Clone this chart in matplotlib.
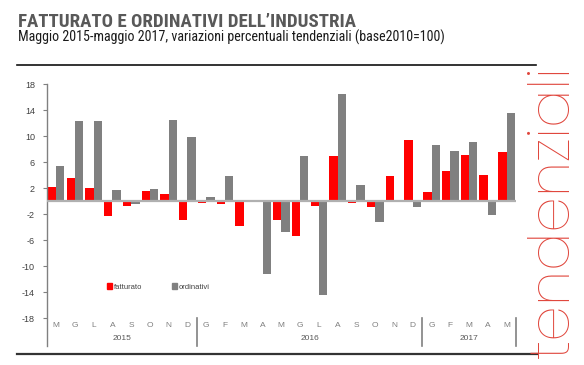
import matplotlib
matplotlib.use("Agg")
import matplotlib.pyplot as plt
from matplotlib.patches import Patch
from matplotlib.lines import Line2D
import numpy as np

plt.rcParams['font.family'] = ['Liberation Sans', 'DejaVu Sans']

months = ['M', 'G', 'L', 'A', 'S', 'O', 'N', 'D',
          'G', 'F', 'M', 'A', 'M', 'G', 'L', 'A', 'S', 'O', 'N', 'D',
          'G', 'F', 'M', 'A', 'M']
years = ['2015', '2016', '2017']
year_spans = [(0, 7), (8, 19), (20, 24)]
fatturato = [2.2, 3.55, 2.0, -2.3, -0.8, 1.65, 1.2, -2.9,
             -0.25, -0.4, -3.75, 0.1, -2.9, -5.3, -0.65, 7.05, -0.25, -0.9, 3.9, 9.4,
             1.5, 4.6, 7.2, 4.05, 7.6]
ordinativi = [5.5, 12.4, 12.4, 1.8, -0.4, 1.9, 12.6, 9.95,
              0.67, 3.9, 0.25, -11.2, -4.8, 6.95, -14.4, 16.5, 2.5, -3.2, 0.1, -0.85,
              8.6, 7.8, 9.2, -2.15, 13.65]
yticks = [18, 14, 10, 6, 2, -2, -6, -10, -14, -18]

W, H = 584, 365
RED = '#ff0000'
GRAY = '#808080'

fig = plt.figure(figsize=(W / 100, H / 100), dpi=100)

def fx(x):
    return x / W

def fy(y):
    return 1 - y / H

ax_l, ax_r, ax_t, ax_b = 46.7, 516.0, 84.5, 346.0
ax = fig.add_axes([fx(ax_l), fy(ax_b), (ax_r - ax_l) / W, (ax_b - ax_t) / H])

x = np.arange(len(months))
bw = 0.445
ax.bar(x - bw / 2, fatturato, width=bw, color=RED, zorder=2)
ax.bar(x + bw / 2, ordinativi, width=bw, color=GRAY, zorder=2)
ax.axhline(0, color='#b0b0b0', lw=1.6, zorder=3)

ymin = -22.3
ax.set_xlim(-0.5, len(months) - 0.5)
ax.set_ylim(ymin, 18)
ax.set_yticks(yticks)
ax.set_yticklabels([str(v) for v in yticks], fontsize=6.5, color='#404040')
ax.set_xticks([])
for s in ['top', 'right', 'bottom']:
    ax.spines[s].set_visible(False)
ax.spines['left'].set_color(GRAY)
ax.spines['left'].set_linewidth(1.0)
ax.tick_params(axis='y', direction='out', length=3, color=GRAY, pad=5.5)

# month labels and year labels
for i, m in enumerate(months):
    ax.text(i, -19.2, m, ha='center', va='center', fontsize=6, color='#7f7f7f')
for yr, (a, b) in zip(years, year_spans):
    ax.text((a + b) / 2, -21.2, yr, ha='center', va='center', fontsize=6, color='#595959')
for sep in [7.5, 19.5, 24.5]:
    ax.plot([sep, sep], [-18, ymin], color=GRAY, lw=1.2, clip_on=False)

handles = [Patch(color=RED), Patch(color=GRAY)]
leg = ax.legend(handles, ['fatturato', 'ordinativi'], ncol=2, frameon=False,
                loc='center left', bbox_to_anchor=(0.128, 0.2256),
                fontsize=5.5, handlelength=0.7, handleheight=0.7,
                handletextpad=0.2, columnspacing=3.9, borderpad=0, borderaxespad=0)
for t in leg.get_texts():
    t.set_color('#404040')

# frame lines
fig.add_artist(Line2D([fx(17), fx(536)], [fy(65), fy(65)], color='#111111', lw=1.2))
fig.add_artist(Line2D([fx(17), fx(537)], [fy(354), fy(354)], color='#333333', lw=1.6))

# titles
fig.text(fx(18), fy(27.3), 'FATTURATO E ORDINATIVI DELL\u2019INDUSTRIA',
         family=['Roboto Condensed', 'Liberation Sans', 'DejaVu Sans'],
         fontweight='bold', fontsize=13.6, color='#595959', va='baseline', ha='left')
fig.text(fx(18), fy(41.7), 'Maggio 2015-maggio 2017, variazioni percentuali tendenziali (base2010=100)',
         family=['Roboto Condensed', 'Liberation Sans', 'DejaVu Sans'],
         fontsize=10.1, color='#1a1a1a', va='baseline', ha='left')

# vertical side label
fig.text(fx(555), fy(212), 'tendenziali', rotation=90,
         family=['Poppins', 'Montserrat', 'Lato', 'DejaVu Sans'],
         fontweight=100, fontsize=41, color='#e0463c', ha='center', va='center')

fig.savefig('out.png', dpi=100)
